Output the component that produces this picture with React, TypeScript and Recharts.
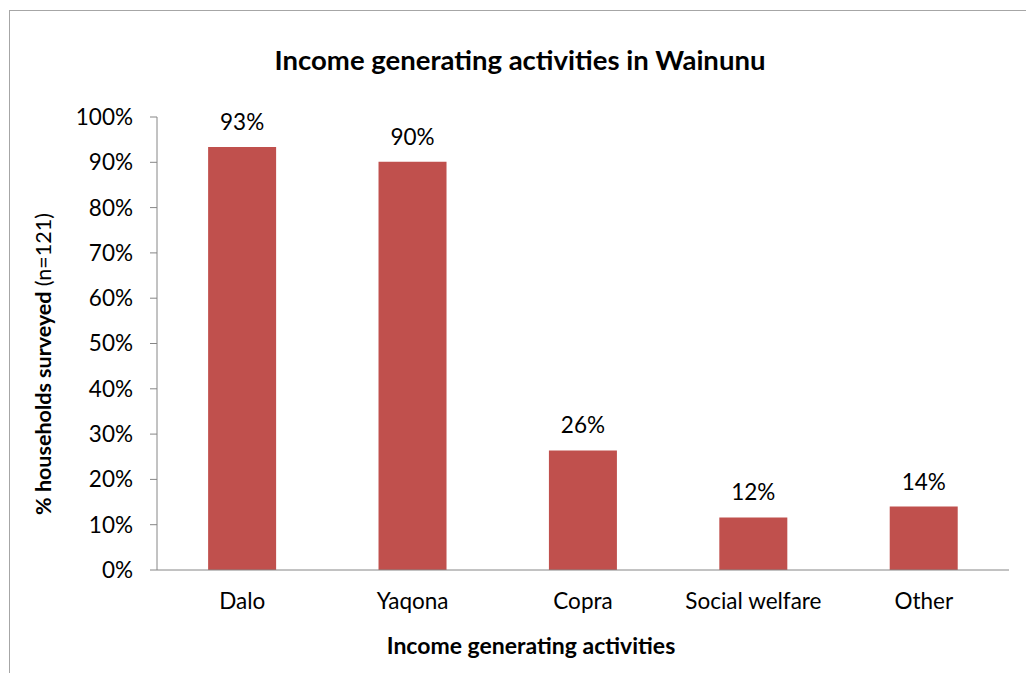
import { BarChart, Bar, XAxis, YAxis, LabelList, Label } from 'recharts'

const categories = ['Dalo', 'Yaqona', 'Copra', 'Social welfare', 'Other']
const shares = [93.4, 90.1, 26.4, 11.6, 14.0]
const yTicks = [0, 10, 20, 30, 40, 50, 60, 70, 80, 90, 100]

const FONT = 'Lato, "Open Sans", sans-serif'
const AXIS_GREY = '#868686'

const data = categories.map((name, i) => ({ name, value: shares[i] }))

const YTitle = () => (
  <text
    x={43}
    y={364}
    transform="rotate(-90 43 364)"
    textAnchor="middle"
    dominantBaseline="central"
    fontFamily={FONT}
    fontSize={21.5}
    fill="#000"
  >
    <tspan fontWeight="bold">% households surveyed </tspan>
    <tspan>(n=121)</tspan>
  </text>
)

export default function App() {
  return (
    <div
      style={{
        position: 'absolute',
        left: 0,
        top: 0,
        width: 1026,
        height: 673,
        overflow: 'hidden',
        background: '#fff',
        fontFamily: FONT,
      }}
    >
      {/* chart frame, cut off on the right and bottom like the original */}
      <div
        style={{
          position: 'absolute',
          left: 9,
          top: 10,
          width: 1040,
          height: 700,
          border: '1px solid #a6a6a6',
        }}
      />
      <div
        style={{
          position: 'absolute',
          left: 520,
          top: 43,
          transform: 'translateX(-50%)',
          whiteSpace: 'nowrap',
          fontSize: 27.5,
          fontWeight: 'bold',
          color: '#000',
        }}
      >
        Income generating activities in Wainunu
      </div>
      <div
        style={{
          position: 'absolute',
          left: 531,
          top: 631,
          transform: 'translateX(-50%)',
          whiteSpace: 'nowrap',
          fontSize: 23,
          fontWeight: 'bold',
          color: '#000',
        }}
      >
        Income generating activities
      </div>
      <div style={{ position: 'absolute', left: 0, top: 0 }}>
        <BarChart
          width={1026}
          height={673}
          data={data}
          margin={{ top: 117, right: 17, bottom: 73, left: 77 }}
          barCategoryGap="30%"
        >
          <XAxis
            dataKey="name"
            height={30}
            tickLine={false}
            tickSize={0}
            tickMargin={23}
            axisLine={{ stroke: AXIS_GREY }}
            tick={{ fill: '#000', fontSize: 22.5, fontFamily: FONT }}
            interval={0}
          />
          <YAxis
            width={80}
            domain={[0, 100]}
            ticks={yTicks}
            tickFormatter={(v: number) => `${v}%`}
            tickSize={7}
            tickMargin={17}
            axisLine={{ stroke: AXIS_GREY }}
            tickLine={{ stroke: AXIS_GREY }}
            tick={{ fill: '#000', fontSize: 22.5, fontFamily: FONT }}
          >
            <Label content={() => <YTitle />} />
          </YAxis>
          <Bar dataKey="value" fill="#C0504D" isAnimationActive={false}>
            <LabelList
              dataKey="value"
              position="top"
              offset={17}
              formatter={(v: any) => `${Math.round(v)}%`}
              style={{ fill: '#000', fontSize: 22.5, fontFamily: FONT }}
            />
          </Bar>
        </BarChart>
      </div>
    </div>
  )
}
